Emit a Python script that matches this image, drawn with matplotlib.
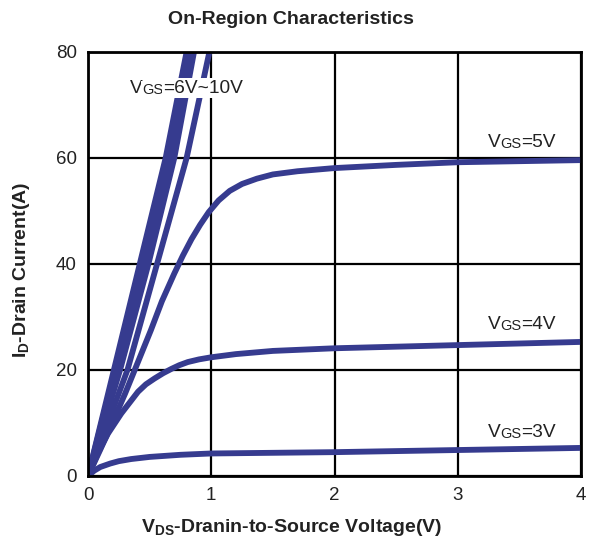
"""
On-region characteristics (ID vs VDS) for several gate voltages.
"""

import matplotlib
matplotlib.use("Agg")
import matplotlib.pyplot as plt

plt.rcParams["font.family"] = ["Liberation Sans", "DejaVu Sans"]

LINE_COLOR = "#363B8F"
TEXT_COLOR = "#222222"

# Steep curves VGS = 6V..10V, given as VDS at fixed current levels.
HIGH_I = [0, 20, 40, 60, 80]
HIGH_VDS = {
    "10V": [0, 0.21, 0.42, 0.63, 0.80],
    "9V": [0, 0.22, 0.44, 0.65, 0.82],
    "8V": [0, 0.24, 0.46, 0.67, 0.84],
    "7V": [0, 0.26, 0.49, 0.70, 0.86],
    "6V": [0, 0.32, 0.56, 0.80, 0.985],
}

VGS5_VDS = [0, 0.1, 0.2, 0.3, 0.4, 0.51, 0.6, 0.7, 0.77, 0.84, 0.91, 0.98,
            1.06, 1.15, 1.25, 1.37, 1.5, 1.7, 2.0, 2.5, 3.0, 3.5, 4.0]
VGS5_I = [0, 5.0, 10.2, 15.5, 21.2, 27.5, 33.0, 38.2, 41.6, 44.7, 47.4, 49.8,
          52.0, 53.8, 55.1, 56.1, 56.9, 57.5, 58.1, 58.7, 59.2, 59.4, 59.6]

VGS4_VDS = [0, 0.08, 0.162, 0.27, 0.406, 0.47, 0.54, 0.61, 0.676, 0.74, 0.81,
            0.9, 1.0, 1.2, 1.5, 2.0, 3.0, 4.0]
VGS4_I = [0, 4.3, 8.0, 11.8, 15.9, 17.3, 18.4, 19.4, 20.2, 20.9, 21.5,
          22.0, 22.4, 23.0, 23.6, 24.1, 24.7, 25.3]

VGS3_VDS = [0, 0.05, 0.1, 0.18, 0.25, 0.35, 0.5, 0.75, 1.0, 2.0, 3.0, 4.0]
VGS3_I = [0, 1.0, 1.7, 2.35, 2.8, 3.2, 3.6, 4.0, 4.25, 4.5, 4.9, 5.3]

# label text, VDS centre, ID centre, white background
CURVE_LABELS = [
    ("6V~10V", 0.80, 73.2, True),
    ("5V", 3.52, 63.0, False),
    ("4V", 3.52, 28.5, False),
    ("3V", 3.52, 8.3, False),
]


def vgs_label(ax, x, y, value, boxed, size=13.8):
    """Draw 'V' + small 'GS' + '=value' side by side, centred at (x, y)."""
    parts = [("V", size), ("GS", size * 0.76), ("=" + value, size)]
    box = dict(fc="white", ec="none", pad=1.0) if boxed else None
    first = ax.text(x, y, parts[0][0], fontsize=parts[0][1], va="bottom",
                    ha="left", color=TEXT_COLOR, bbox=box, zorder=5)
    prev = first
    pieces = [first]
    for s, fs in parts[1:]:
        prev = ax.annotate(s, xy=(1, 0), xycoords=prev, va="bottom",
                           ha="left", fontsize=fs, color=TEXT_COLOR,
                           bbox=box, zorder=5)
        pieces.append(prev)
    # shift whole group so it is centred on (x, y)
    fig = ax.figure
    fig.canvas.draw()
    r = fig.canvas.get_renderer()
    e0 = pieces[0].get_window_extent(r)
    e1 = pieces[-1].get_window_extent(r)
    px, py = ax.transData.transform((x, y))
    dx = px - (e0.x0 + e1.x1) / 2
    dy = py - (e0.y0 + e0.y1) / 2
    first.set_position(ax.transData.inverted().transform((px + dx, py + dy)))


fig = plt.figure(figsize=(5.92, 5.45), dpi=100)
ax = fig.add_axes([88 / 592, 69 / 545, 493 / 592, 424 / 545])

for name, vds in HIGH_VDS.items():
    ax.plot(vds, HIGH_I, color=LINE_COLOR, lw=4.2, solid_capstyle="butt",
            solid_joinstyle="round", zorder=3)
for vds, cur in [(VGS5_VDS, VGS5_I), (VGS4_VDS, VGS4_I), (VGS3_VDS, VGS3_I)]:
    ax.plot(vds, cur, color=LINE_COLOR, lw=4.2, solid_capstyle="butt",
            solid_joinstyle="round", zorder=3)

ax.set_xlim(0, 4)
ax.set_ylim(0, 80)
ax.set_xticks([0, 1, 2, 3, 4])
ax.set_yticks([0, 20, 40, 60, 80])
ax.tick_params(length=0, labelsize=13.5, pad=8, colors=TEXT_COLOR)
ax.grid(True, color="black", lw=1.6, zorder=1)
ax.set_axisbelow(True)
for sp in ax.spines.values():
    sp.set_linewidth(2.0)
    sp.set_color("black")
    sp.set_zorder(4)

fig.text(291 / 592, 1 - 19 / 545, "On-Region Characteristics",
         ha="center", va="center", fontsize=14, fontweight="bold",
         color=TEXT_COLOR)
fig.text(292 / 592, 1 - 527 / 545,
         r"V$\mathregular{_{DS}}$-Dranin-to-Source Voltage(V)",
         ha="center", va="center", fontsize=14, fontweight="bold",
         color=TEXT_COLOR)
fig.text(22 / 592, 1 - 270 / 545,
         r"I$\mathregular{_{D}}$-Drain Current(A)",
         ha="center", va="center", rotation=90, fontsize=14,
         fontweight="bold", color=TEXT_COLOR)

for value, x, y, boxed in CURVE_LABELS:
    vgs_label(ax, x, y, value, boxed)

fig.savefig("out.png", dpi=100)
